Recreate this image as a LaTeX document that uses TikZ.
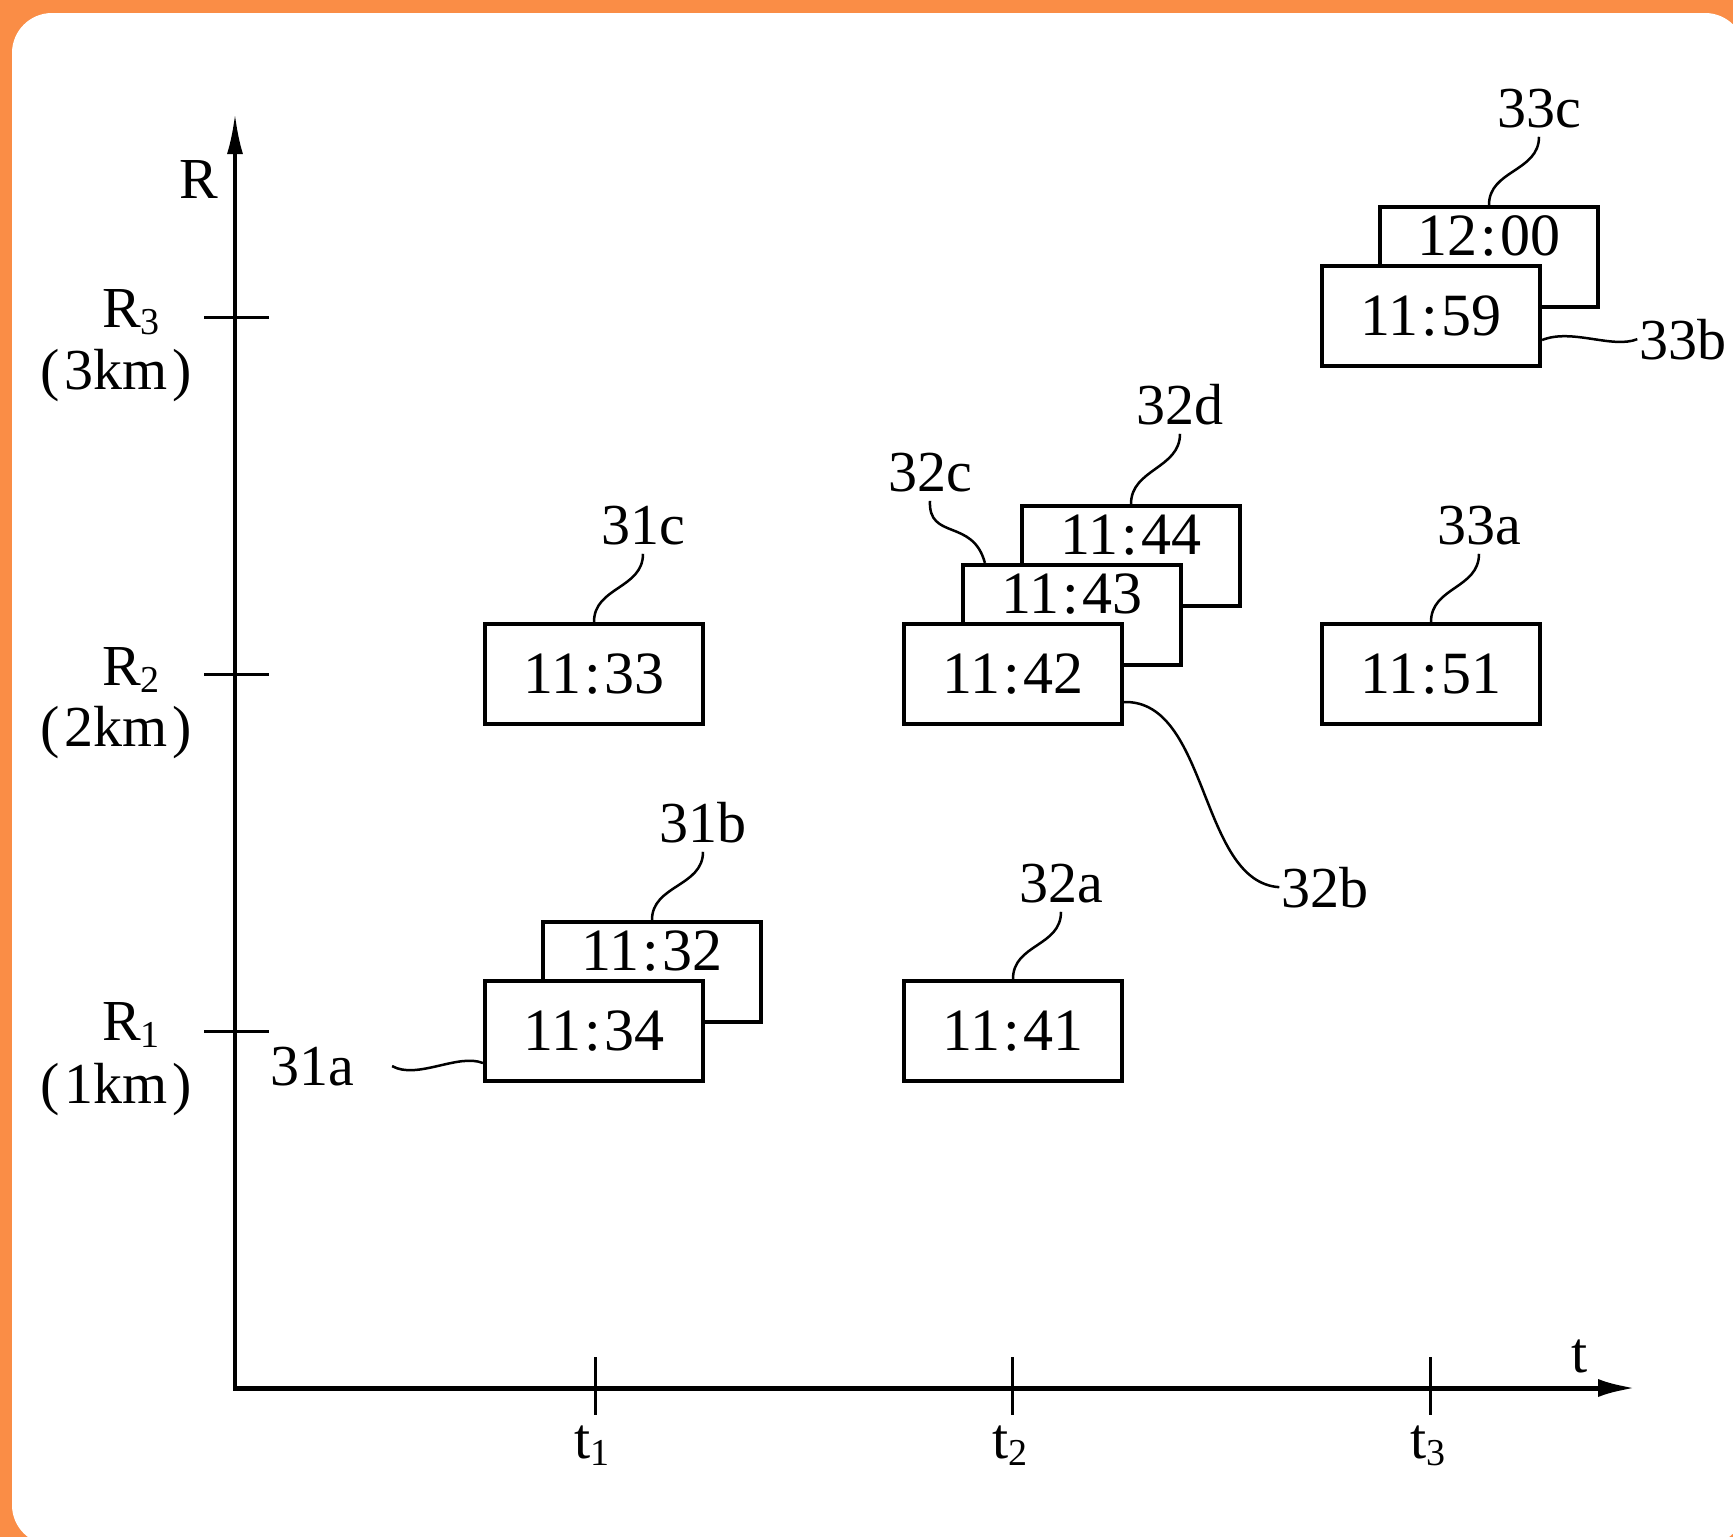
\documentclass[tikz,border=0pt]{standalone}
\usepackage{fontspec}
\setmainfont{Liberation Serif}
\usetikzlibrary{arrows.meta}
\definecolor{frameorange}{RGB}{250,141,70}
\newcommand\subnum[1]{\raisebox{-7pt}{\fontsize{38}{38}\selectfont #1}}
\newcommand\clk[2]{#1\kern3pt:\kern3pt#2}
\begin{document}
\begin{tikzpicture}[x=1pt,y=-1pt,
  tbox/.style={draw,line width=4.2pt,fill=white,minimum width=218pt,minimum height=100pt,inner sep=0pt,font=\fontsize{60}{70}\selectfont},
  backbox/.style={tbox,text depth=42pt},
  lbl/.style={inner sep=0pt,anchor=base,font=\fontsize{58}{66}\selectfont},
  lead/.style={line width=2.5pt},
  tickline/.style={line width=3pt}]
\useasboundingbox (0,0) rectangle (1733,1537);
\fill[frameorange] (0,0) rectangle (1733,1537);
\fill[white,rounded corners=40pt] (12,13) rectangle (1745,1545);

% axes
\coordinate (O) at (235,1388);
\coordinate (ytip) at (235,114);
\coordinate (xtip) at (1636,1388);
\draw[line width=3.5pt,-{Latex[length=40pt,width=16pt]}] ([yshift=-2.5pt]O) -- (ytip);
\draw[line width=5pt,-{Latex[length=38pt,width=18pt]}] ([xshift=-1.75pt]O) -- (xtip);
\foreach \y in {317,674,1031} \draw[tickline] (204,\y) -- (269,\y);
\foreach \x in {595,1012,1430} \draw[tickline] (\x,1357) -- (\x,1415);

% axis labels
\node[lbl] (Rlab) at (199,198) {R};
\node[lbl] (tlab) at (1580,1372) {t};
\node[lbl] (R3) at (131,327) {R\subnum{3}};
\node[lbl] (R3km) at (116,389) {(\kern5pt3km\kern4pt)};
\node[lbl] (R2) at (131,685) {R\subnum{2}};
\node[lbl] (R2km) at (116,746) {(\kern5pt2km\kern4pt)};
\node[lbl] (R1) at (131,1040) {R\subnum{1}};
\node[lbl] (R1km) at (116,1103) {(\kern5pt1km\kern4pt)};
\node[lbl] (t1) at (592,1458) {t\subnum{1}};
\node[lbl] (t2) at (1010,1458) {t\subnum{2}};
\node[lbl] (t3) at (1428,1458) {t\subnum{3}};

% boxes
\node[backbox] (b1132) at (652,972) {\clk{11}{32}};
\node[tbox] (b1134) at (594,1031) {\clk{11}{34}};
\node[tbox] (b1141) at (1013,1031) {\clk{11}{41}};
\node[tbox] (b1133) at (594,674) {\clk{11}{33}};
\node[backbox] (b1144) at (1131,556) {\clk{11}{44}};
\node[backbox] (b1143) at (1072,615) {\clk{11}{43}};
\node[tbox] (b1142) at (1013,674) {\clk{11}{42}};
\node[tbox] (b1151) at (1431,674) {\clk{11}{51}};
\node[backbox] (b1200) at (1489,257) {\clk{12}{00}};
\node[tbox] (b1159) at (1431,316) {\clk{11}{59}};

% reference labels
\node[lbl] (l31c) at (643,544) {31c};
\node[lbl] (l31b) at (703,842) {31b};
\node[lbl] (l31a) at (312,1085) {31a};
\node[lbl] (l32a) at (1061,902) {32a};
\node[lbl] (l32b) at (1325,907) {32b};
\node[lbl] (l32c) at (930,491) {32c};
\node[lbl] (l32d) at (1180,424) {32d};
\node[lbl] (l33a) at (1479,544) {33a};
\node[lbl] (l33b) at (1683,359) {33b};
\node[lbl] (l33c) at (1539,127) {33c};

% leaders
\draw[lead] ([yshift=-9pt]l31c.south) .. controls +(0,35) and +(0,-35) .. (b1133.north);
\draw[lead] ([yshift=-9pt]l31b.south) .. controls +(0,35) and +(0,-35) .. (b1132.north);
\draw[lead] ([yshift=-9pt]l32a.south) .. controls +(0,35) and +(0,-35) .. (b1141.north);
\draw[lead] ([yshift=-9pt]l33a.south) .. controls +(0,35) and +(0,-35) .. (b1151.north);
\draw[lead] ([yshift=-9pt]l32d.south) .. controls +(0,35) and +(0,-35) .. (b1144.north);
\draw[lead] ([yshift=-9pt]l33c.south) .. controls +(0,35) and +(0,-35) .. (b1200.north);
\draw[lead] ([yshift=-9pt]l32c.south) .. controls +(-2,40) and +(-12,-45) .. ([xshift=24pt]b1143.north west);
\draw[lead] ([yshift=-28pt]b1142.east) .. controls +(85,-2) and +(-80,-5) .. ([xshift=-2pt]l32b.west);
\draw[lead] ([xshift=38pt]l31a.east) .. controls +(25,14) and +(-25,-10) .. ([yshift=-32pt]b1134.west);
\draw[lead] ([yshift=-24pt]b1159.east) .. controls +(30,-12) and +(-25,10) .. ([xshift=-2pt]l33b.west);
\end{tikzpicture}
\end{document}
